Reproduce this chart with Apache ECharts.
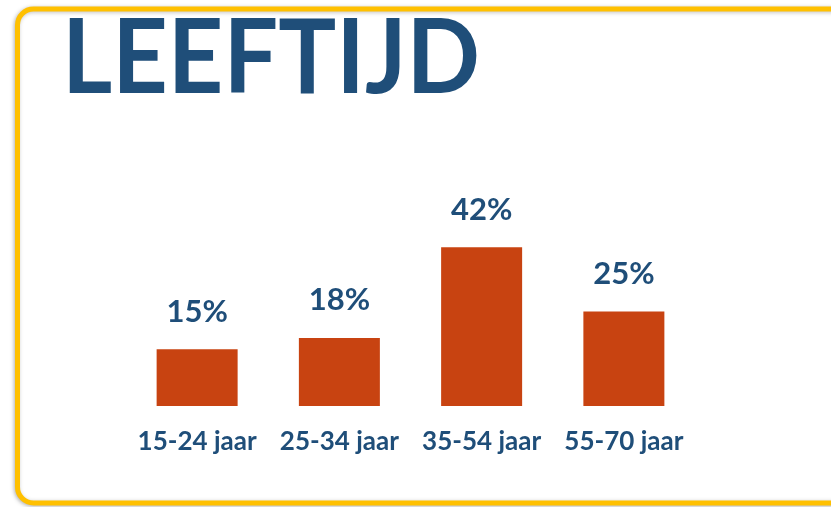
<!DOCTYPE html>
<html>
<head>
<meta charset="utf-8">
<script src="https://cdn.jsdelivr.net/npm/echarts@6/dist/echarts.min.js"></script>
<style>
  html, body { margin: 0; padding: 0; background: #fff; }
  #chart { width: 831px; height: 507px; }
</style>
</head>
<body>
<div id="chart"></div>
<script>
// leeftijdsgroepen en aandeel (%)
var categories = ['15-24 jaar', '25-34 jaar', '35-54 jaar', '55-70 jaar']
var values = [15, 18, 42, 25]

var blue = '#1F4E79'
var chart = echarts.init(document.getElementById('chart'))
var option = {
  backgroundColor: '#fff',
  animation: false,
  graphic: [{
    type: 'rect',
    shape: { x: 17.5, y: 9, width: 900, height: 494, r: 16 },
    style: {
      fill: '#fff',
      stroke: '#FFC000',
      lineWidth: 5,
      shadowBlur: 4,
      shadowColor: 'rgba(0,0,0,0.25)',
      shadowOffsetX: -1,
      shadowOffsetY: 1
    },
    z: -10
  }, {
    type: 'text',
    x: 62,
    y: 7,
    scaleX: 0.93,
    style: {
      text: 'LEEFTIJD',
      font: 'bold 104px Lato',
      fill: blue
    }
  }],
  grid: {
    left: 126,
    width: 569,
    top: 28,
    bottom: 101
  },
  xAxis: {
    type: 'category',
    data: categories,
    axisLine: { show: false },
    axisTick: { show: false },
    axisLabel: {
      interval: 0,
      color: blue,
      fontFamily: 'Lato',
      fontWeight: 'bold',
      fontSize: 26,
      margin: 23
    }
  },
  yAxis: {
    type: 'value',
    min: 0,
    max: 100,
    show: false,
    splitLine: { show: false }
  },
  series: [{
    type: 'bar',
    data: values,
    barWidth: 81,
    itemStyle: { color: '#C84311' },
    label: {
      show: true,
      position: 'top',
      distance: 22,
      formatter: '{c}%',
      color: blue,
      fontFamily: 'Lato',
      fontWeight: 'bold',
      fontSize: 31
    }
  }]
}
chart.setOption(option)
</script>
</body>
</html>
